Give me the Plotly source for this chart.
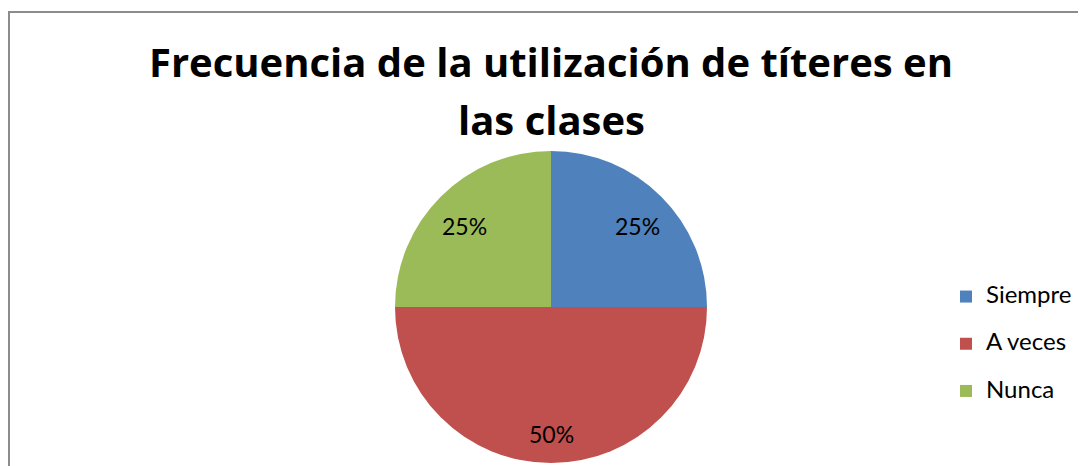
import math
import plotly.graph_objects as go

categories = ["Siempre", "A veces", "Nunca"]
values = [25, 50, 25]
colors = ["#4F81BD", "#C0504D", "#9BBB59"]
title_line1 = "Frecuencia de la utilización de títeres en"
title_line2 = "las clases"

W, H = 1086, 466
OX, OY = 8, 8  # page body offset


def px(xs):
    return (xs - OX) / W


def py(ys):
    return 1 - (ys - OY) / H


# pie geometry (screen pixels)
CX, CY, R = 551, 307, 156

legend_labels = [
    "<span style='font-size:24px'>" + c + "</span><br> " for c in categories
]

fig = go.Figure(go.Pie(
    labels=legend_labels,
    values=values,
    sort=False,
    direction="clockwise",
    rotation=0,
    marker=dict(colors=colors, line=dict(width=0)),
    textinfo="none",
    hoverinfo="percent",
    domain=dict(x=[px(CX - R), px(CX + R)], y=[py(CY + R), py(CY - R)]),
    showlegend=True,
))

# percentage labels placed at the middle angle of each slice
total = sum(values)
annotations = []
cum = 0
for v in values:
    mid = (cum + v / 2) / total * 2 * math.pi
    cum += v
    rr = 0.78 * R
    xs = CX + rr * math.sin(mid)
    ys = CY - rr * math.cos(mid)
    annotations.append(dict(
        x=px(xs), y=py(ys), xref="paper", yref="paper",
        text=f"{v / total:.0%}", showarrow=False,
        xanchor="center", yanchor="middle", yshift=-5,
        font=dict(family="Lato", size=23, color="#000000"),
    ))

annotations.append(dict(
    x=px(551), y=py(119), xref="paper", yref="paper",
    text="<b>" + title_line2 + "</b>", showarrow=False,
    xanchor="center", yanchor="middle",
    font=dict(family="Open Sans", size=40, color="#000000"),
))

fig.update_layout(
    width=W, height=H,
    margin=dict(l=0, r=0, t=0, b=0),
    paper_bgcolor="white",
    plot_bgcolor="white",
    title=dict(
        text="<b>" + title_line1 + "</b>",
        x=px(551), xanchor="center",
        y=py(49), yanchor="top",
        font=dict(family="Open Sans", size=40, color="#000000"),
    ),
    legend=dict(
        x=px(946), xanchor="left",
        y=py(355), yanchor="middle",
        font=dict(family="Lato", size=17, color="#000000"),
        bgcolor="rgba(0,0,0,0)",
        itemwidth=30,
        valign="top",
    ),
    annotations=annotations,
    shapes=[dict(
        type="rect", xref="paper", yref="paper",
        x0=px(9), x1=1.05, y0=-0.05, y1=py(12),
        line=dict(color="#8C8C8C", width=2),
        fillcolor="rgba(0,0,0,0)", layer="below",
    )],
)

fig.write_html("out.html")
